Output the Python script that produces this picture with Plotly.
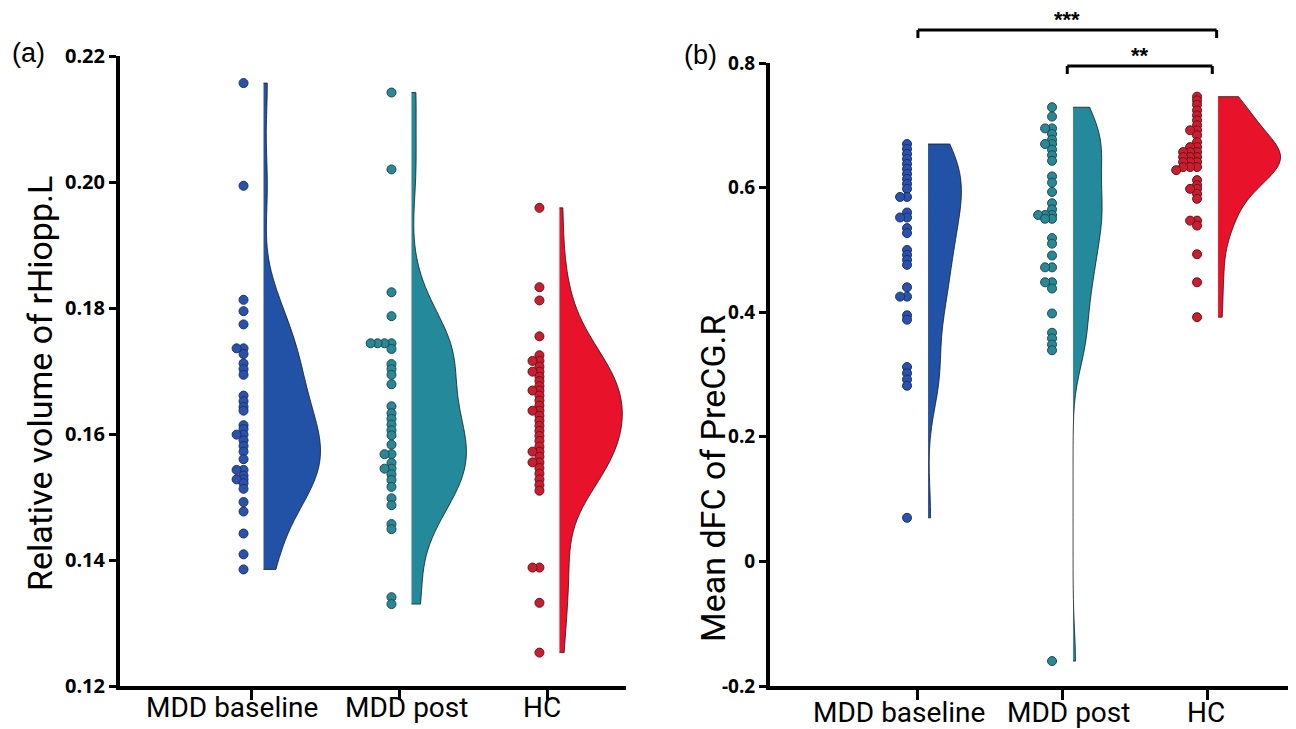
import plotly.graph_objects as go

categories = ["MDD baseline", "MDD post", "HC"]

# Panel (a): Relative volume of rHiopp.L
a_baseline = [0.2157, 0.1994, 0.1813, 0.1795, 0.1774, 0.1736, 0.1736, 0.1727, 0.1712,
              0.1703, 0.1694, 0.1661, 0.1652, 0.1643, 0.1637, 0.1614, 0.1608, 0.1599,
              0.1599, 0.1590, 0.1581, 0.1572, 0.1560, 0.1543, 0.1543, 0.1534, 0.1528,
              0.1528, 0.1522, 0.1513, 0.1492, 0.1477, 0.1442, 0.1409, 0.1385]
a_post = [0.2142, 0.2020, 0.1825, 0.1787, 0.1744, 0.1744, 0.1744, 0.1744, 0.1735,
          0.1711, 0.1703, 0.1694, 0.1679, 0.1644, 0.1633, 0.1624, 0.1615, 0.1606,
          0.1598, 0.1583, 0.1568, 0.1568, 0.1554, 0.1545, 0.1545, 0.1536, 0.1527,
          0.1516, 0.1498, 0.1487, 0.1457, 0.1449, 0.1341, 0.1330]
a_hc = [0.1959, 0.1833, 0.1812, 0.1755, 0.1725, 0.1716, 0.1716, 0.1707, 0.1699,
        0.1699, 0.1691, 0.1684, 0.1676, 0.1669, 0.1669, 0.1661, 0.1653, 0.1645,
        0.1637, 0.1637, 0.1629, 0.1621, 0.1613, 0.1605, 0.1597, 0.1589, 0.1580,
        0.1572, 0.1572, 0.1564, 0.1555, 0.1555, 0.1546, 0.1537, 0.1528, 0.1519,
        0.1510, 0.1388, 0.1388, 0.1332, 0.1253]

# Panel (b): Mean dFC of PreCG.R
b_baseline = [0.670, 0.662, 0.654, 0.646, 0.638, 0.630, 0.622, 0.614, 0.606, 0.598,
              0.585, 0.585, 0.560, 0.552, 0.552, 0.535, 0.527, 0.500, 0.492, 0.484,
              0.476, 0.440, 0.425, 0.425, 0.395, 0.388, 0.312, 0.302, 0.292, 0.282,
              0.070]
b_post = [0.729, 0.714, 0.695, 0.695, 0.686, 0.677, 0.670, 0.670, 0.661, 0.652,
          0.643, 0.618, 0.608, 0.593, 0.575, 0.565, 0.556, 0.556, 0.556, 0.550,
          0.550, 0.519, 0.510, 0.491, 0.472, 0.472, 0.448, 0.448, 0.438, 0.398,
          0.367, 0.358, 0.348, 0.339, -0.160]
b_hc = [0.746, 0.740, 0.733, 0.724, 0.716, 0.708, 0.700, 0.692, 0.692, 0.684,
        0.673, 0.665, 0.665, 0.657, 0.657, 0.657, 0.649, 0.649, 0.649, 0.641,
        0.641, 0.641, 0.633, 0.633, 0.633, 0.628, 0.612, 0.604, 0.598, 0.598,
        0.590, 0.582, 0.547, 0.547, 0.539, 0.493, 0.448, 0.392]

y_ticks_a = [0.12, 0.14, 0.16, 0.18, 0.20, 0.22]
y_ticks_b = [-0.2, 0, 0.2, 0.4, 0.6, 0.8]
y_ticktext_b = ["-0.2", "0", "0.2", "0.4", "0.6", "0.8"]

colors_fill = ["#2152A6", "#24899A", "#E8132B"]
colors_dot = ["#2A52AA", "#2A8794", "#C81E30"]
colors_edge = ["#1B2F6E", "#184B55", "#6E1018"]

# page has an 8px body margin: figure is placed at (8, 8) in the window
OFF = 8
W, H = 1296 - OFF, 729 - OFF
NARROW = "Liberation Sans Narrow, Roboto, sans-serif"


def fx(px):
    return (px - OFF) / W


def fy(py):
    return 1 - (py - OFF) / H


def swarm(vals, center, dx, thresh):
    xs = [0.0] * len(vals)
    placed = []
    order = sorted(range(len(vals)), key=lambda i: -vals[i])
    for i in order:
        k = 0
        while any(pk == k and abs(pv - vals[i]) < thresh for pv, pk in placed):
            k += 1
        placed.append((vals[i], k))
        xs[i] = center - k * dx
    return xs


fig = go.Figure()

panels = [
    dict(data=[a_baseline, a_post, a_hc], xa="x", ya="y", bw=[0.0058, 0.0058, 0.0062],
         widths=[0.385, 0.37, 0.425], dot_off=-0.055, vio_off=0.08, dx=0.047, thresh=0.00056),
    dict(data=[b_baseline, b_post, b_hc], xa="x2", ya="y2", bw=[0.055, 0.05, 0.032],
         widths=[0.23, 0.20, 0.43], dot_off=-0.075, vio_off=0.07, dx=0.048, thresh=0.0056),
]

for p in panels:
    for i, vals in enumerate(p["data"]):
        fig.add_trace(go.Violin(
            y=vals, x0=i + p["vio_off"], side="positive", points=False,
            spanmode="hard", bandwidth=p["bw"][i], width=2 * p["widths"][i],
            scalemode="width", fillcolor=colors_fill[i], opacity=1,
            line=dict(color="#1a1a1a", width=0.8), box_visible=False,
            meanline_visible=False, xaxis=p["xa"], yaxis=p["ya"],
            showlegend=False, hoverinfo="skip"))
        xs = swarm(vals, i + p["dot_off"], p["dx"], p["thresh"])
        fig.add_trace(go.Scatter(
            x=xs, y=vals, mode="markers", xaxis=p["xa"], yaxis=p["ya"],
            marker=dict(size=9, color=colors_dot[i],
                        line=dict(color=colors_edge[i], width=1)),
            showlegend=False, hoverinfo="skip"))

axis_common = dict(showline=True, linecolor="black", linewidth=4, ticks="outside",
                   tickcolor="black", showgrid=False, zeroline=False, mirror=False,
                   automargin=False)

fig.update_layout(
    width=W, height=H, margin=dict(l=0, r=0, t=0, b=0),
    paper_bgcolor="white", plot_bgcolor="white", showlegend=False,
    xaxis=dict(domain=[fx(120), fx(626)], range=[-0.89, 2.53], tickvals=[0, 1, 2],
               showticklabels=False, ticklen=10, tickwidth=2.5, anchor="y",
               **axis_common),
    yaxis=dict(domain=[fy(686), fy(56)], range=[0.12, 0.22], tickvals=y_ticks_a,
               ticktext=["%.2f" % v for v in y_ticks_a], ticklen=7, tickwidth=3,
               tickfont=dict(family="Open Sans", size=20, color="black", weight="bold"),
               anchor="x", **axis_common),
    xaxis2=dict(domain=[fx(770), fx(1290)], range=[-1.02, 2.566], tickvals=[0, 1, 2],
                showticklabels=False, ticklen=10, tickwidth=2.5, anchor="y2",
                **axis_common),
    yaxis2=dict(domain=[fy(686), fy(63)], range=[-0.2, 0.8], tickvals=y_ticks_b,
                ticktext=y_ticktext_b, ticklen=7, tickwidth=3,
                tickfont=dict(family="Open Sans", size=19, color="black", weight="bold"),
                anchor="x2", **axis_common),
)

# category labels (placed individually as in the reference)
label_pos_a = [-0.135, 1.047, 1.96]
label_pos_b = [-0.13, 1.04, 1.99]
for xref, poss, ypx in (("x", label_pos_a, 707), ("x2", label_pos_b, 712)):
    for cat, xp in zip(categories, poss):
        fig.add_annotation(text=cat, x=xp, xref=xref, y=fy(ypx), yref="paper",
                           xanchor="center", yanchor="middle", showarrow=False,
                           font=dict(family=NARROW, size=28, color="black"))

# axis titles and panel labels
fig.add_annotation(text="Relative volume of rHiopp.L", x=fx(40), y=fy(384),
                   xref="paper", yref="paper", textangle=-90, showarrow=False,
                   xanchor="center", yanchor="middle",
                   font=dict(family=NARROW, size=34, color="black"))
fig.add_annotation(text="Mean dFC of PreCG.R", x=fx(713), y=fy(478),
                   xref="paper", yref="paper", textangle=-90, showarrow=False,
                   xanchor="center", yanchor="middle",
                   font=dict(family=NARROW, size=34, color="black"))
fig.add_annotation(text="(a)", x=fx(28), y=fy(53), xref="paper", yref="paper",
                   xanchor="center", yanchor="middle", showarrow=False,
                   font=dict(family="Liberation Sans", size=27, color="black"))
fig.add_annotation(text="(b)", x=fx(700), y=fy(55), xref="paper", yref="paper",
                   xanchor="center", yanchor="middle", showarrow=False,
                   font=dict(family="Liberation Sans", size=27, color="black"))

# significance bars
sig = [(0.0, 2.06, 30, "***"), (1.03, 2.03, 66, "**")]
for x0, x1, ypx, label in sig:
    yb = fy(ypx)
    yt = fy(ypx + 8)
    fig.add_shape(type="line", xref="x2", yref="paper", x0=x0, x1=x1, y0=yb, y1=yb,
                  line=dict(color="black", width=3))
    for xe in (x0, x1):
        fig.add_shape(type="line", xref="x2", yref="paper", x0=xe, x1=xe, y0=yb, y1=yt,
                      line=dict(color="black", width=3))
    fig.add_annotation(text="<b>%s</b>" % label, x=(x0 + x1) / 2, xref="x2",
                       y=fy(ypx - 10), yref="paper", yanchor="middle", xanchor="center",
                       showarrow=False, borderpad=0,
                       font=dict(family="Liberation Sans", size=22, color="black"))

fig.write_html("out.html")
